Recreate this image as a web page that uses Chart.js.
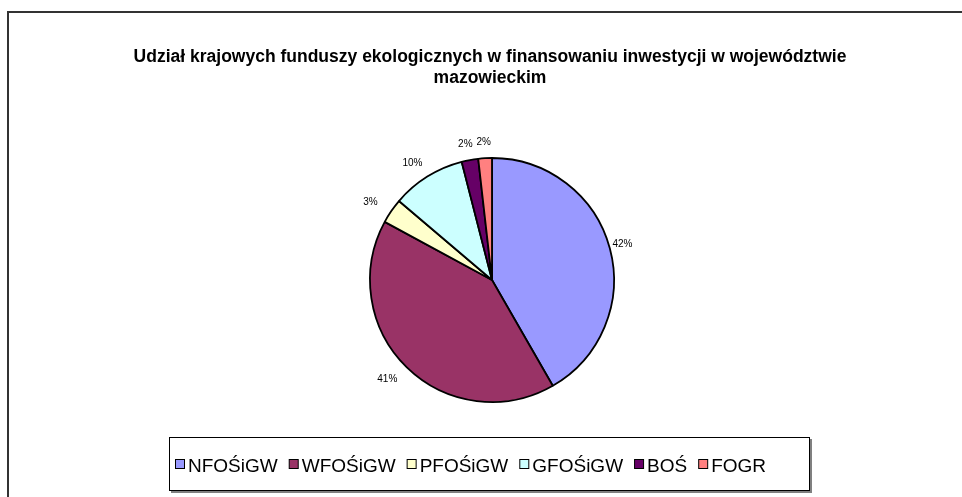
<!DOCTYPE html>
<html>
<head>
<meta charset="utf-8">
<script src="https://cdn.jsdelivr.net/npm/chart.js@4/dist/chart.umd.min.js"></script>
<style>
  html, body { margin: 0; padding: 0; background: #ffffff; }
  #wrap { width: 962px; height: 497px; position: relative; }
</style>
</head>
<body>
<div id="wrap"><canvas id="c" width="962" height="497"></canvas></div>
<script>
const titleLines = ["Udział krajowych funduszy ekologicznych w finansowaniu inwestycji w województwie", "mazowieckim"];
const categories = ["NFOŚiGW", "WFOŚiGW", "PFOŚiGW", "GFOŚiGW", "BOŚ", "FOGR"];
const shares = [41.7, 41.2, 3.3, 9.8, 2.2, 1.8];
const colors = ["#9999FF", "#993366", "#FFFFCC", "#CCFFFF", "#660066", "#FF8080"];

const FONT = "'Liberation Sans', Arial, sans-serif";

const framePlugin = {
  id: 'frame',
  beforeDraw(chart) {
    const ctx = chart.ctx;
    ctx.save();
    ctx.fillStyle = '#ffffff';
    ctx.fillRect(0, 0, chart.width, chart.height);
    ctx.strokeStyle = '#333333';
    ctx.lineWidth = 2;
    ctx.beginPath();
    ctx.moveTo(8, chart.height + 5);
    ctx.lineTo(8, 12);
    ctx.lineTo(chart.width + 5, 12);
    ctx.stroke();
    // title
    ctx.fillStyle = '#000000';
    ctx.font = "bold 17.5px " + FONT;
    ctx.textAlign = 'center';
    ctx.textBaseline = 'middle';
    ctx.fillText(titleLines[0], 490, 57);
    ctx.fillText(titleLines[1], 490, 78);
    ctx.restore();
  },
  afterDraw(chart) {
    const ctx = chart.ctx;
    const meta = chart.getDatasetMeta(0);
    const data = chart.data.datasets[0].data;
    const total = data.reduce((a, b) => a + b, 0);
    ctx.save();
    ctx.font = "10px " + FONT;
    ctx.fillStyle = '#000000';
    ctx.textBaseline = 'middle';
    ctx.textAlign = 'center';
    meta.data.forEach((arc, i) => {
      const mid = (arc.startAngle + arc.endAngle) / 2;
      const r = arc.outerRadius + 8;
      const label = Math.round(data[i] / total * 100) + '%';
      const w = ctx.measureText(label).width;
      const dx = Math.cos(mid), dy = Math.sin(mid);
      const shift = dx < 0 ? 10 * dx : -5 * dx;
      const x = arc.x + dx * r + dx * (w / 2) + shift;
      const y = arc.y + dy * r + dy * 8;
      ctx.fillText(label, x, y);
    });
    // legend
    const bx = 169, by = 437, bw = 641, bh = 54;
    ctx.fillStyle = '#808080';
    ctx.fillRect(bx + 2, by + 2, bw, bh);
    ctx.fillStyle = '#ffffff';
    ctx.fillRect(bx, by, bw, bh);
    ctx.strokeStyle = '#000000';
    ctx.lineWidth = 1;
    ctx.strokeRect(bx + 0.5, by + 0.5, bw - 1, bh - 1);
    ctx.font = "19px " + FONT;
    ctx.textAlign = 'left';
    ctx.textBaseline = 'alphabetic';
    const sq = 9, gapSq = 4, gapItem = 11;
    const widths = categories.map(c => ctx.measureText(c).width);
    let x = bx + 6;
    const base = by + 35;
    categories.forEach((c, i) => {
      ctx.fillStyle = colors[i];
      ctx.fillRect(x + 0.5, base - 12.5, sq, sq);
      ctx.strokeStyle = '#000000';
      ctx.lineWidth = 1;
      ctx.strokeRect(x + 0.5, base - 12.5, sq, sq);
      ctx.fillStyle = '#000000';
      ctx.fillText(c, x + sq + gapSq, base);
      x += sq + gapSq + widths[i] + gapItem;
    });
    ctx.restore();
  }
};

new Chart(document.getElementById('c'), {
  type: 'pie',
  data: {
    labels: categories,
    datasets: [{
      data: shares,
      backgroundColor: colors,
      borderColor: '#000000',
      borderWidth: 1.8,
      borderAlign: 'center'
    }]
  },
  options: {
    responsive: false,
    animation: false,
    radius: 122,
    layout: { padding: { left: 370, right: 348, top: 158, bottom: 95 } },
    plugins: {
      legend: { display: false },
      title: { display: false },
      tooltip: { enabled: false }
    }
  },
  plugins: [framePlugin]
});
</script>
</body>
</html>
